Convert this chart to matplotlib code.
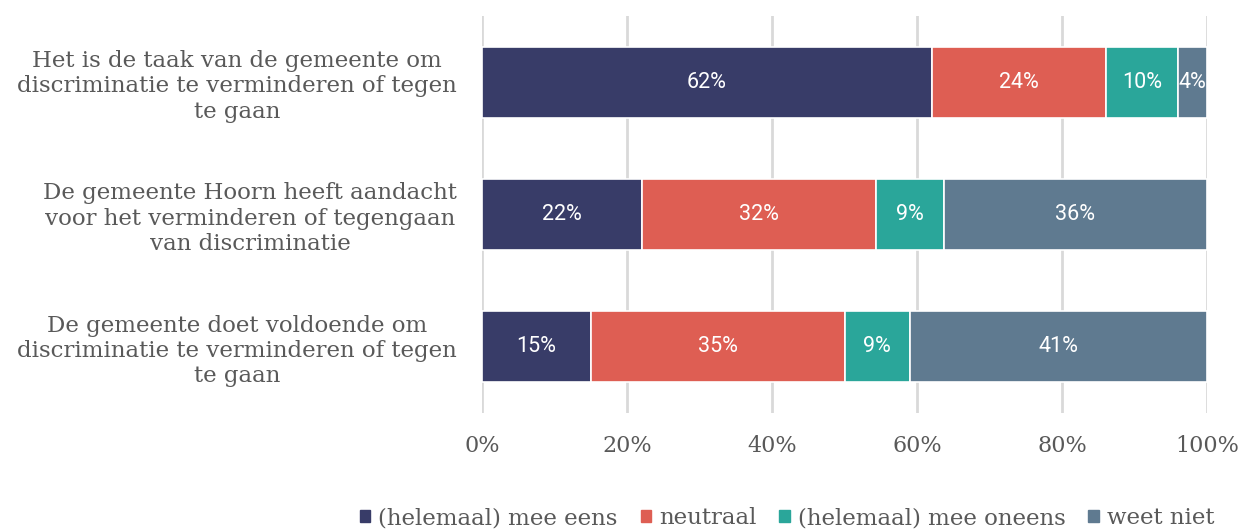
import matplotlib
matplotlib.use("Agg")
import matplotlib.pyplot as plt
from matplotlib.patches import Patch

# data
statements = [
    "Het is de taak van de gemeente om\ndiscriminatie te verminderen of tegen\nte gaan",
    "De gemeente Hoorn heeft aandacht\nvoor het verminderen of tegengaan\nvan discriminatie",
    "De gemeente doet voldoende om\ndiscriminatie te verminderen of tegen\nte gaan",
]
series = ["(helemaal) mee eens", "neutraal", "(helemaal) mee oneens", "weet niet"]
eens = [62, 22.0, 15]
neutraal = [24, 32.4, 35]
oneens = [10, 9.3, 9]
weet_niet = [4, 36.3, 41]
colors = ["#383C68", "#DE5E53", "#2AA69A", "#5F7A90"]

text_color = "#595959"


def main():
    fig = plt.figure(figsize=(12.42, 5.29), dpi=100)
    ax = fig.add_axes([482 / 1242, 1 - 413 / 529, 725 / 1242, (413 - 16) / 529])

    ypos = list(range(len(statements)))
    left = [0] * len(statements)
    for vals, col, name in zip([eens, neutraal, oneens, weet_niet], colors, series):
        bars = ax.barh(ypos, vals, left=left, height=0.535, color=col,
                       edgecolor="white", linewidth=1.2, label=name, zorder=3)
        for b, v, l in zip(bars, vals, left):
            ax.text(l + v / 2, b.get_y() + b.get_height() / 2, f"{round(v)}%",
                    ha="center", va="center", color="white", fontsize=15.5,
                    family="Roboto", zorder=4)
        left = [a + b for a, b in zip(left, vals)]

    ax.set_xlim(0, 100)
    ax.set_ylim(2.5, -0.5)
    ax.set_xticks([0, 20, 40, 60, 80, 100])
    ax.set_xticklabels([f"{t}%" for t in [0, 20, 40, 60, 80, 100]],
                       family="DejaVu Serif", fontsize=16, color=text_color)
    ax.set_yticks(ypos)
    ax.set_yticklabels(statements, family="DejaVu Serif", fontsize=16.5,
                       color=text_color, linespacing=1.2)
    for lbl in ax.get_yticklabels():
        lbl.set_multialignment("center")
    ax.tick_params(axis="both", length=0)
    ax.tick_params(axis="y", pad=18)
    ax.tick_params(axis="x", pad=16)
    ax.grid(axis="x", color="#D9D9D9", linewidth=2, zorder=0)
    for s in ax.spines.values():
        s.set_visible(False)

    handles = [Patch(color=c, label=n) for c, n in zip(colors, series)]
    fig.legend(handles=handles, loc="center", bbox_to_anchor=(787 / 1242, 1 - 518 / 529),
               ncol=4, frameon=False, handlelength=0.45, handleheight=0.45,
               handletextpad=0.35, columnspacing=1.0,
               prop={"family": "DejaVu Serif", "size": 16.5}, labelcolor=text_color)

    fig.savefig("out.png", dpi=100)


if __name__ == "__main__":
    main()
